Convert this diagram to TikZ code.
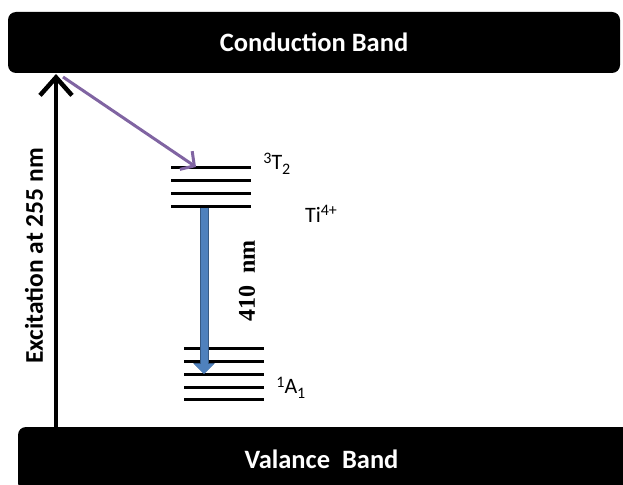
\documentclass[tikz,border=0pt]{standalone}
\usepackage{fontspec}
\setmainfont{Carlito}
\newfontfamily\timesfont{Liberation Serif}
\usetikzlibrary{positioning,arrows.meta}
\definecolor{relaxpurple}{HTML}{8064A2}
\definecolor{emitblue}{HTML}{4F81BD}
\newcommand{\upidx}[1]{\raisebox{0.6ex}{\fontsize{16}{16}\selectfont #1}}
\newcommand{\lowidx}[1]{\raisebox{-0.45ex}{\fontsize{16}{16}\selectfont #1}}

\begin{document}
\begin{tikzpicture}[
  x=1pt, y=-1pt,
  band/.style={fill=black, rounded corners=8pt, text=white, inner sep=0,
    font=\fontsize{26.5}{30}\selectfont\bfseries},
  level/.style={fill=black, minimum width=80pt, minimum height=3pt, inner sep=0},
  state/.style={font=\fontsize{22}{24}\selectfont, inner sep=0},
  node distance=10pt
]
\useasboundingbox (0,0) rectangle (623,484);

% Bands
\node[band, minimum width=612pt, minimum height=61pt] (CB) at (314,42.5) {Conduction Band};
\node[band, minimum width=612pt, minimum height=64pt] (VB) at (324,459) {\hspace*{-5pt}Valance\ \ Band};

% Upper levels (3T2)
\node[level] (T1) at (211,167) {};
\node[level] (T2) at (211,180) {};
\node[level] (T3) at (211,193) {};
\node[level] (T4) at (211,206) {};

% Lower levels (1A1)
\node[level] (A1) at (224,348) {};
\node[level] (A2) at (224,361) {};
\node[level] (A3) at (224,374) {};
\node[level] (A4) at (224,387) {};
\node[level] (A5) at (224,399) {};

% Labels
\node[state, right=12pt of T1, yshift=3pt] (lT) {\upidx{3}T\lowidx{2}};
\node[state] (ion) at (321,214) {Ti\upidx{4+}};
\node[state, right=12pt of A4, yshift=-1pt] (lA) {\upidx{1}A\lowidx{1}};
\node[rotate=90, font=\timesfont\bfseries\fontsize{24}{28}\selectfont] (em) at (247,281) {410\ \ nm};
\node[rotate=90, font=\fontsize{25.5}{30}\selectfont\bfseries] (ex) at (34,256) {Excitation at 255 nm};

% --- excitation ---
\coordinate (exbot) at (56,427);
\coordinate (extop) at (56,74);
\draw[line width=4.5pt, -{Straight Barb[length=18pt, width=32pt]}] (exbot) -- (extop);

% --- relaxation ---
\coordinate (cbout) at (63,77);
\draw[line width=3pt, relaxpurple, -{Straight Barb[length=10pt, width=22pt]}] (cbout) -- ([xshift=-15pt]T1.center);

% --- emission ---
\draw[line width=7pt, emitblue,
  preaction={draw, line width=9pt, emitblue!70!black, -{Triangle[width=21pt, length=11pt]}},
  -{Triangle[width=19pt, length=10pt]}] ([xshift=-7pt]T4.south) -- ([xshift=-20pt]A3.center);

\end{tikzpicture}
\end{document}
